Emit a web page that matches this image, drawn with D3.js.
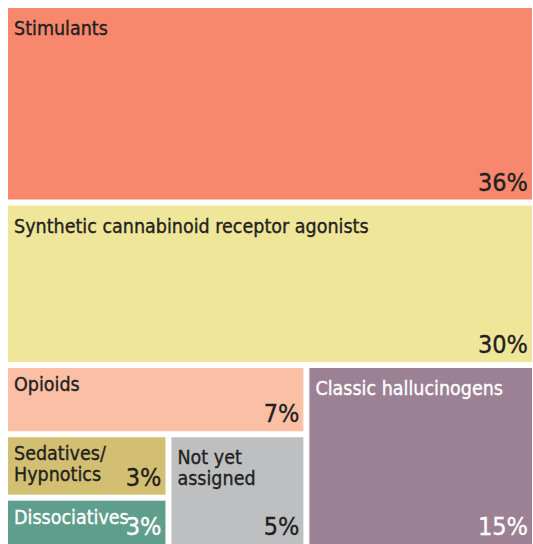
<!DOCTYPE html>
<html>
<head>
<meta charset="utf-8">
<script src="https://cdn.jsdelivr.net/npm/d3@7"></script>
<style>
  body { margin: 0; background: #fff; }
  svg { display: block; }
  text { font-family: "DejaVu Sans Condensed", "DejaVu Sans", sans-serif; stroke-width: 0.35px; }
</style>
</head>
<body>
<svg width="533" height="544"></svg>
<script>
// categories, area shares and printed labels
var categories = ["Stimulants", "Synthetic cannabinoid receptor agonists", "Opioids",
                  "Classic hallucinogens", "Sedatives/\nHypnotics", "Not yet\nassigned", "Dissociatives"];
var shares = [36.35, 29.9, 7.25, 14.45, 3.6, 5.4, 2.8];
var pctLabels = ["36%", "30%", "7%", "15%", "3%", "5%", "3%"];
var colors = ["#f7876d", "#f0e699", "#fbbfa5", "#9b8193", "#d2bf72", "#bebfc1", "#5f9e8c"];
var textColors = ["#231f20", "#231f20", "#231f20", "#ffffff", "#231f20", "#231f20", "#ffffff"];

function leaf(i) { return {i: i}; }

// nesting of the blocks: slice = stacked vertically, dice = side by side
var tree = {dir: "slice", children: [
  leaf(0), leaf(1),
  {dir: "dice", children: [
    {dir: "slice", children: [
      leaf(2),
      {dir: "dice", children: [
        {dir: "slice", children: [leaf(4), leaf(6)]},
        leaf(5)
      ]}
    ]},
    leaf(3)
  ]}
]};

var svg = d3.select("svg"),
    margin = {top: 8, right: 1, bottom: 0, left: 8},
    width = +svg.attr("width") - margin.left - margin.right,
    height = +svg.attr("height") - margin.top - margin.bottom,
    g = svg.append("g").attr("transform", "translate(" + margin.left + "," + margin.top + ")");

var root = d3.hierarchy(tree)
    .sum(function(d) { return d.i === undefined ? 0 : shares[d.i]; });

d3.treemap()
    .size([width, height])
    .paddingInner(6)
    .tile(function(node, x0, y0, x1, y1) {
      (node.data.dir === "dice" ? d3.treemapDice : d3.treemapSlice)(node, x0, y0, x1, y1);
    })(root);

var cell = g.selectAll("g")
  .data(root.leaves())
  .enter().append("g")
    .attr("transform", function(d) { return "translate(" + d.x0 + "," + d.y0 + ")"; });

cell.append("rect")
    .attr("width", function(d) { return d.x1 - d.x0; })
    .attr("height", function(d) { return d.y1 - d.y0; })
    .attr("fill", function(d) { return colors[d.data.i]; });

// name, one tspan per line (big blocks get a bit more top room)
cell.append("text")
    .attr("y", function(d) { return d.y1 - d.y0 > 100 ? 27 : 23; })
    .attr("font-size", 19.5)
    .attr("fill", function(d) { return textColors[d.data.i]; })
    .attr("stroke", function(d) { return textColors[d.data.i]; })
  .selectAll("tspan")
  .data(function(d) { return categories[d.data.i].split("\n"); })
  .enter().append("tspan")
    .attr("x", 6)
    .attr("dy", function(d, i) { return i ? 21 : 0; })
    .text(function(d) { return d; });

// percentage, bottom right
cell.append("text")
    .attr("x", function(d) { return d.x1 - d.x0 - 4; })
    .attr("y", function(d) { return d.y1 - d.y0 - 9; })
    .attr("text-anchor", "end")
    .attr("font-size", 25)
    .attr("fill", function(d) { return textColors[d.data.i]; })
    .attr("stroke", function(d) { return textColors[d.data.i]; })
    .text(function(d) { return pctLabels[d.data.i]; });
</script>
</body>
</html>
